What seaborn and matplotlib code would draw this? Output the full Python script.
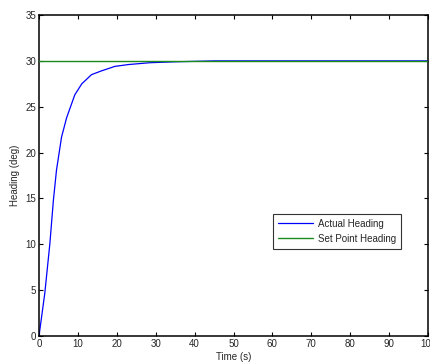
import numpy as np
import pandas as pd
import matplotlib
matplotlib.use("Agg")
import matplotlib.pyplot as plt
import seaborn as sns

# values
time_s = [0, 1.5, 2.8, 3.7, 4.5, 5.8, 7.1, 9.2, 11, 13.5, 16, 19.5, 23, 28.5, 35, 45, 60, 100]
actual_heading = [0, 4.7, 10.1, 14.8, 18.1, 21.7, 23.8, 26.3, 27.5, 28.5, 28.9, 29.4, 29.6, 29.8, 29.9, 30.0, 30.0, 30.0]
set_point_time = [0, 100]
set_point_heading = [30, 30]

sns.set_style("white")
plt.rcParams['font.family'] = ['Liberation Sans', 'DejaVu Sans']

fig = plt.figure(figsize=(4.3, 3.62), dpi=100)
ax = fig.add_axes([0.0907, 0.0718, 0.9047, 0.8867])

sns.lineplot(x=time_s, y=actual_heading, ax=ax, color='#0000ff', lw=0.9, label='Actual Heading', zorder=2)
sns.lineplot(x=set_point_time, y=set_point_heading, ax=ax, color='#1a8a1a', lw=1.0,
             label='Set Point Heading', zorder=3)

ax.set_xlim(0, 100)
ax.set_ylim(0, 35)
ax.set_xticks(range(0, 101, 10))
ax.set_yticks(range(0, 36, 5))
ax.tick_params(direction='in', length=3, width=0.8, labelsize=7, top=True, right=True,
               bottom=True, left=True, pad=2, color='black')
for s in ax.spines.values():
    s.set_visible(True)
    s.set_color('black')
    s.set_linewidth(1.1)

ax.set_xlabel('Time (s)', fontsize=7, labelpad=2)
ax.set_ylabel('Heading (deg)', fontsize=7, labelpad=4)

leg = ax.legend(loc='upper left', bbox_to_anchor=(0.6015, 0.38), fontsize=7,
                frameon=True, fancybox=False, shadow=False, handlelength=3.6,
                borderpad=0.5, labelspacing=0.5, handletextpad=0.5, borderaxespad=0)
leg.get_frame().set_edgecolor('black')
leg.get_frame().set_linewidth(0.8)

fig.savefig('out.png', dpi=100)
